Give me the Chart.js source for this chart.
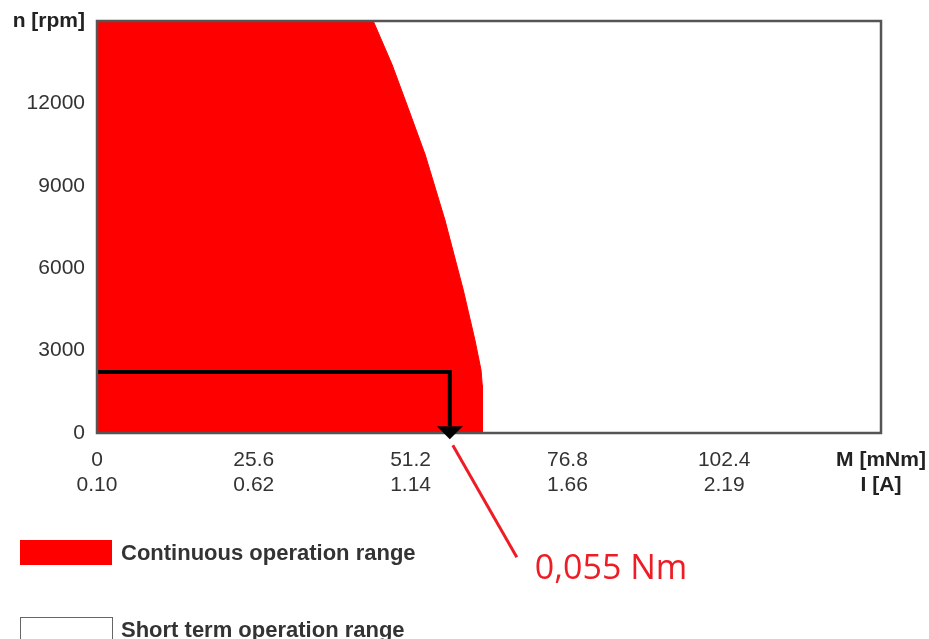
<!DOCTYPE html>
<html>
<head>
<meta charset="utf-8">
<script src="https://cdn.jsdelivr.net/npm/chart.js@4/dist/chart.umd.min.js"></script>
<style>
  html, body { margin: 0; padding: 0; background: #ffffff; }
  #wrap { width: 929px; height: 639px; position: relative; }
</style>
</head>
<body>
<div id="wrap"><canvas id="c" width="929" height="639"></canvas></div>
<script>
// ---- data ----
const torqueTickLabels = ['0', '25.6', '51.2', '76.8', '102.4'];
const currentTickLabels = ['0.10', '0.62', '1.14', '1.66', '2.19'];
const torqueAxisName = 'M [mNm]';
const currentAxisName = 'I [A]';
const speedAxisName = 'n [rpm]';
const torqueMax = 128;
const torqueStep = 25.6;
const speedMax = 15000;
const speedStep = 3000;

// continuous operation range boundary (torque mNm, speed rpm)
const boundaryTorque = [0, 45.1, 48.2, 50.8, 53.6, 56.8, 59.8, 61.7, 62.7, 62.9, 62.9];
const boundarySpeed  = [15000, 15000, 13400, 11830, 10120, 7760, 5210, 3390, 2290, 1750, 0];

// operating point marker (arrow)
const markerTorque = [0, 57.6, 57.6];
const markerSpeed  = [2220, 2220, 250];

const annotationText = '0,055 Nm';
const legendLabels = ['Continuous operation range', 'Short term operation range'];

const FONT = "'Liberation Sans', Arial, sans-serif";

const fillPoints = boundaryTorque.map((t, i) => ({ x: t, y: boundarySpeed[i] }));
const markerPoints = markerTorque.map((t, i) => ({ x: t, y: markerSpeed[i] }));

const decorPlugin = {
  id: 'decor',
  afterDatasetsDraw(chart) {
    const ctx = chart.ctx;
    const a = chart.chartArea;
    ctx.save();
    // frame
    ctx.strokeStyle = '#555555';
    ctx.lineWidth = 2.5;
    ctx.strokeRect(a.left, a.top, a.right - a.left, a.bottom - a.top);

    // arrowhead at end of marker
    const meta = chart.getDatasetMeta(0);
    const last = meta.data[meta.data.length - 1];
    const tx = last.x, ty = last.y;
    ctx.fillStyle = '#000000';
    ctx.beginPath();
    ctx.moveTo(tx - 13, ty);
    ctx.lineTo(tx + 13, ty);
    ctx.lineTo(tx, ty + 13);
    ctx.closePath();
    ctx.fill();

    // red leader line + annotation
    ctx.strokeStyle = '#ee1c25';
    ctx.lineWidth = 3;
    ctx.beginPath();
    ctx.moveTo(tx + 3, ty + 19);
    ctx.lineTo(tx + 67, ty + 131);
    ctx.stroke();
    ctx.fillStyle = '#ee1c25';
    ctx.font = "34px 'Open Sans', sans-serif";
    ctx.textBaseline = 'alphabetic';
    ctx.textAlign = 'left';
    ctx.fillText(annotationText, tx + 85, ty + 153);

    // legend
    ctx.fillStyle = '#ff0000';
    ctx.fillRect(20, 540, 92, 25);
    ctx.strokeStyle = '#666666';
    ctx.lineWidth = 1;
    ctx.strokeRect(20.5, 617.5, 92, 30);
    ctx.fillStyle = '#333333';
    ctx.font = "bold 22px " + FONT;
    ctx.fillText(legendLabels[0], 121, 560);
    ctx.fillText(legendLabels[1], 121, 637);
    ctx.restore();
  }
};

new Chart(document.getElementById('c'), {
  type: 'line',
  data: {
    datasets: [
      {
        label: 'marker',
        data: markerPoints,
        borderColor: '#000000',
        borderWidth: 4,
        pointRadius: 0,
        fill: false,
        tension: 0,
        borderCapStyle: 'butt',
        borderJoinStyle: 'miter',
        order: 0
      },
      {
        label: legendLabels[0],
        data: fillPoints,
        borderColor: '#ff0000',
        borderWidth: 1,
        backgroundColor: '#ff0000',
        pointRadius: 0,
        fill: 'origin',
        tension: 0,
        order: 1
      }
    ]
  },
  options: {
    responsive: false,
    animation: false,
    layout: { autoPadding: false, padding: { left: 0, top: 21, right: 48, bottom: 0 } },
    plugins: { legend: { display: false }, tooltip: { enabled: false } },
    scales: {
      x: {
        type: 'linear',
        min: 0,
        max: torqueMax,
        grid: { display: false, drawTicks: false },
        border: { display: false },
        afterFit(s) { s.height = 206; s.paddingLeft = 0; s.paddingRight = 0; },
        ticks: {
          stepSize: torqueStep,
          maxRotation: 0,
          autoSkip: false,
          padding: 15,
          color: (c) => (c.tick && c.tick.value === torqueMax) ? '#222222' : '#333333',
          font: (c) => (c.tick && c.tick.value === torqueMax)
            ? { family: FONT, size: 21, weight: 'bold', lineHeight: 1.19 }
            : { family: FONT, size: 21, weight: 'normal', lineHeight: 1.19 },
          callback(v, i) {
            if (Math.abs(v - torqueMax) < 1e-6) return [torqueAxisName, currentAxisName];
            return [torqueTickLabels[i], currentTickLabels[i]];
          }
        }
      },
      y: {
        type: 'linear',
        min: 0,
        max: speedMax,
        grid: { display: false, drawTicks: false },
        border: { display: false },
        afterFit(s) { s.width = 97; s.paddingTop = 0; s.paddingBottom = 0; },
        ticks: {
          stepSize: speedStep,
          padding: 12,
          color: (c) => (c.tick && c.tick.value === speedMax) ? '#222222' : '#333333',
          font: (c) => (c.tick && c.tick.value === speedMax)
            ? { family: FONT, size: 21, weight: 'bold' }
            : { family: FONT, size: 21, weight: 'normal' },
          callback(v) {
            if (v === speedMax) return speedAxisName;
            return String(v);
          }
        }
      }
    }
  },
  plugins: [decorPlugin]
});
</script>
</body>
</html>
